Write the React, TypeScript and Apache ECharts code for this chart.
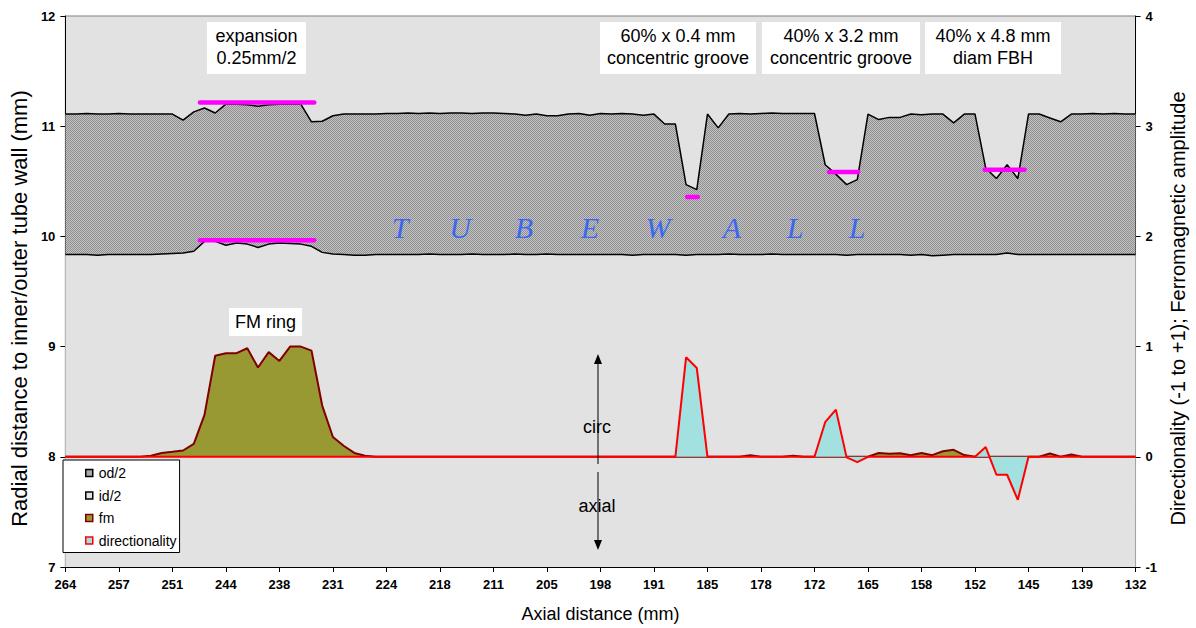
import React, { useEffect, useRef } from 'react';
import * as echarts from 'echarts';

// Axial sample positions (mm), 101 samples
const axialMm = [
  264.0, 262.68, 261.36, 260.04, 258.72, 257.4, 256.08, 254.76, 253.44, 252.12,
  250.8, 249.48, 248.16, 246.84, 245.52, 244.2, 242.88, 241.56, 240.24, 238.92,
  237.6, 236.28, 234.96, 233.64, 232.32, 231.0, 229.68, 228.36, 227.04, 225.72,
  224.4, 223.08, 221.76, 220.44, 219.12, 217.8, 216.48, 215.16, 213.84, 212.52,
  211.2, 209.88, 208.56, 207.24, 205.92, 204.6, 203.28, 201.96, 200.64, 199.32,
  198.0, 196.68, 195.36, 194.04, 192.72, 191.4, 190.08, 188.76, 187.44, 186.12,
  184.8, 183.48, 182.16, 180.84, 179.52, 178.2, 176.88, 175.56, 174.24, 172.92,
  171.6, 170.28, 168.96, 167.64, 166.32, 165.0, 163.68, 162.36, 161.04, 159.72,
  158.4, 157.08, 155.76, 154.44, 153.12, 151.8, 150.48, 149.16, 147.84, 146.52,
  145.2, 143.88, 142.56, 141.24, 139.92, 138.6, 137.28, 135.96, 134.64, 133.32,
  132.0,
];

const odHalf = [
  11.11, 11.11, 11.115, 11.11, 11.11, 11.115, 11.11, 11.11, 11.11, 11.11,
  11.11, 11.055, 11.13, 11.165, 11.12, 11.2, 11.2, 11.195, 11.18, 11.195,
  11.2, 11.2, 11.2, 11.04, 11.045, 11.095, 11.11, 11.11, 11.11, 11.11,
  11.115, 11.115, 11.12, 11.115, 11.12, 11.115, 11.12, 11.12, 11.115, 11.12,
  11.12, 11.115, 11.11, 11.1, 11.11, 11.095, 11.095, 11.11, 11.115, 11.1,
  11.115, 11.11, 11.115, 11.11, 11.1, 11.11, 11.02, 11.02, 10.47, 10.425,
  11.11, 10.985, 11.11, 11.115, 11.11, 11.115, 11.12, 11.115, 11.115, 11.115,
  11.115, 10.65, 10.565, 10.47, 10.515, 11.11, 11.06, 11.08, 11.08, 11.11,
  11.105, 11.11, 11.11, 11.03, 11.11, 11.11, 10.62, 10.525, 10.65, 10.525,
  11.11, 11.11, 11.075, 11.04, 11.11, 11.11, 11.115, 11.11, 11.115, 11.11,
  11.11,
];

const idHalf = [
  9.835, 9.835, 9.835, 9.83, 9.835, 9.835, 9.835, 9.835, 9.835, 9.84,
  9.845, 9.85, 9.865, 9.955, 9.955, 9.92, 9.94, 9.93, 9.9, 9.93,
  9.94, 9.935, 9.93, 9.91, 9.855, 9.84, 9.835, 9.83, 9.83, 9.835,
  9.835, 9.835, 9.835, 9.835, 9.84, 9.835, 9.835, 9.835, 9.84, 9.835,
  9.835, 9.835, 9.84, 9.835, 9.835, 9.84, 9.835, 9.835, 9.835, 9.835,
  9.835, 9.835, 9.835, 9.83, 9.835, 9.835, 9.835, 9.835, 9.83, 9.835,
  9.835, 9.835, 9.84, 9.835, 9.835, 9.835, 9.84, 9.835, 9.835, 9.835,
  9.835, 9.835, 9.835, 9.83, 9.835, 9.835, 9.835, 9.835, 9.835, 9.83,
  9.835, 9.825, 9.83, 9.835, 9.835, 9.835, 9.835, 9.835, 9.85, 9.835,
  9.835, 9.835, 9.835, 9.835, 9.835, 9.835, 9.835, 9.835, 9.835, 9.835,
  9.835,
];

const fmAmp = [
  0, 0, 0, 0, 0, 0, 0, 0, 0.01, 0.035,
  0.045, 0.057, 0.118, 0.38, 0.917, 0.94, 0.94, 0.985, 0.81, 0.95,
  0.87, 1.0, 1.0, 0.963, 0.465, 0.18, 0.1, 0.035, 0.01, 0,
  0, 0, 0, 0, 0, 0, 0, 0, 0, 0,
  0, 0, 0, 0, 0, 0, 0, 0, 0, 0,
  0, 0, 0, 0, 0, 0, 0, 0, 0, 0,
  0, 0, 0, 0, 0.015, 0, 0, 0, 0.01, 0,
  0, 0, 0, 0, 0, 0, 0.035, 0.027, 0.033, 0.015,
  0.035, 0.015, 0.05, 0.063, 0.016, 0, 0, 0, 0, 0,
  0, 0, 0.03, 0, 0.02, 0, 0, 0, 0, 0,
  0,
];

const directionality = [
  0, 0, 0, 0, 0, 0, 0, 0, 0, 0,
  0, 0, 0, 0, 0, 0, 0, 0, 0, 0,
  0, 0, 0, 0, 0, 0, 0, 0, 0, 0,
  0, 0, 0, 0, 0, 0, 0, 0, 0, 0,
  0, 0, 0, 0, 0, 0, 0, 0, 0, 0,
  0, 0, 0, 0, 0, 0, 0, 0, 0.903, 0.806,
  0, 0, 0, 0, 0, 0, 0, 0, 0, 0,
  0, 0.314, 0.428, -0.005, -0.048, 0, 0, 0, 0, 0,
  0, 0, 0, 0, 0, 0, 0.088, -0.163, -0.163, -0.39,
  0, 0, 0, 0, 0, 0, 0, 0, 0, 0,
  0,
];

// Magenta reference markers (nominal depths)
const markerStart = [247.4, 247.4, 187.3, 169.8, 150.6];
const markerEnd = [233.3, 233.3, 186.0, 166.2, 145.7];
const markerLevel = [11.215, 9.964, 10.358, 10.584, 10.605];

const xTickLabels = [
  '132', '139', '145', '152', '158', '165', '172', '178', '185', '191', '198',
  '205', '211', '218', '224', '231', '238', '244', '251', '257', '264',
];

const legendNames = ['od/2', 'id/2', 'fm', 'directionality'];
const wallLetters = ['T', 'U', 'B', 'E', 'W', 'A', 'L', 'L'];

const FONT = '"Liberation Sans", Arial, sans-serif';
const BG = '#e2e2e2';

function makeHatch(): any {
  const c = document.createElement('canvas');
  c.width = 4;
  c.height = 4;
  const ctx = c.getContext('2d')!;
  ctx.fillStyle = '#c4c4c4';
  ctx.fillRect(0, 0, 4, 4);
  ctx.fillStyle = '#8e8e8e';
  for (let y = 0; y < 4; y++) {
    for (let x = 0; x < 4; x++) {
      if ((x + y) % 2 === 0) ctx.fillRect(x, y, 1, 1);
    }
  }
  return { image: c, repeat: 'repeat' };
}

export default function App() {
  const ref = useRef<HTMLDivElement>(null);

  useEffect(() => {
    if (!ref.current) return;
    const chart = echarts.init(ref.current, null, { renderer: 'svg' });
    const hatch = makeHatch();

    const pairs = (vals: number[]) => axialMm.map((x, i) => [x, vals[i]]);

    const markerSeries = markerStart.map((x0, k) => ({
      name: 'marker' + k,
      type: 'line',
      yAxisIndex: 0,
      symbol: 'none',
      silent: true,
      data: [
        [x0, markerLevel[k]],
        [markerEnd[k], markerLevel[k]],
      ],
      lineStyle: { color: '#ff00ff', width: 4.5, cap: 'round' },
      z: 3,
    }));

    const annotations: any[] = [];
    const boxes = [
      { x: 207, w: 99, text: 'expansion\n0.25mm/2' },
      { x: 600, w: 156, text: '60% x 0.4 mm\nconcentric groove' },
      { x: 762, w: 158, text: '40% x 3.2 mm\nconcentric groove' },
      { x: 925, w: 136, text: '40% x 4.8 mm\ndiam FBH' },
    ];
    boxes.forEach((b) => {
      annotations.push({
        type: 'rect',
        shape: { x: b.x, y: 22, width: b.w, height: 52 },
        style: { fill: '#ffffff' },
        z: 10,
      });
      annotations.push({
        type: 'text',
        x: b.x + b.w / 2,
        y: 47,
        style: {
          text: b.text,
          fill: '#000',
          fontSize: 18,
          fontFamily: FONT,
          align: 'center',
          verticalAlign: 'middle',
          lineHeight: 22,
        },
        z: 11,
      });
    });
    annotations.push({
      type: 'rect',
      shape: { x: 229, y: 308, width: 73, height: 28 },
      style: { fill: '#ffffff' },
      z: 10,
    });
    annotations.push({
      type: 'text',
      x: 265.5,
      y: 322,
      style: { text: 'FM ring', fill: '#000', fontSize: 18, fontFamily: FONT, align: 'center', verticalAlign: 'middle' },
      z: 11,
    });
    const letterX = [400, 460, 524, 590, 658, 732, 795, 857];
    wallLetters.forEach((ch, i) => {
      annotations.push({
        type: 'text',
        x: letterX[i],
        y: 227,
        style: {
          text: ch,
          fill: '#3a68f2',
          fontSize: 30,
          fontStyle: 'italic',
          fontFamily: '"Liberation Serif", "Times New Roman", serif',
          align: 'center',
          verticalAlign: 'middle',
        },
        z: 11,
      });
    });
    // arrows
    annotations.push({ type: 'line', shape: { x1: 598, y1: 464, x2: 598, y2: 362 }, style: { stroke: '#000', lineWidth: 1 }, z: 11 });
    annotations.push({ type: 'polygon', shape: { points: [[598, 354], [594, 364], [602, 364]] }, style: { fill: '#000' }, z: 11 });
    annotations.push({ type: 'line', shape: { x1: 598, y1: 472, x2: 598, y2: 542 }, style: { stroke: '#000', lineWidth: 1 }, z: 11 });
    annotations.push({ type: 'polygon', shape: { points: [[598, 550], [594, 540], [602, 540]] }, style: { fill: '#000' }, z: 11 });
    annotations.push({
      type: 'text', x: 597, y: 427,
      style: { text: 'circ', fill: '#000', fontSize: 18, fontFamily: FONT, align: 'center', verticalAlign: 'middle' }, z: 11,
    });
    annotations.push({
      type: 'text', x: 597, y: 506,
      style: { text: 'axial', fill: '#000', fontSize: 18, fontFamily: FONT, align: 'center', verticalAlign: 'middle' }, z: 11,
    });

    const axisLabelStyle = { color: '#000', fontSize: 13, fontWeight: 'bold', fontFamily: FONT };
    const axisLineStyle = { show: true, lineStyle: { color: '#000', width: 1 } };

    chart.setOption({
      animation: false,
      backgroundColor: '#ffffff',
      textStyle: { fontFamily: FONT },
      grid: {
        left: 63,
        right: 56,
        top: 16,
        bottom: 60,
        show: true,
        backgroundColor: BG,
        borderColor: '#808080',
        borderWidth: 1,
      },
      legend: {
        data: [
          { name: legendNames[0], itemStyle: { color: hatch, borderColor: '#000', borderWidth: 1.5 } },
          { name: legendNames[1], itemStyle: { color: BG, borderColor: '#000', borderWidth: 1.5 } },
          { name: legendNames[2], itemStyle: { color: '#999933', borderColor: '#800000', borderWidth: 1.5 } },
          { name: legendNames[3], itemStyle: { color: '#a3e0e0', borderColor: '#ff0000', borderWidth: 1.5 } },
        ],
        icon: 'rect',
        orient: 'vertical',
        left: 63,
        top: 460,
        backgroundColor: '#ffffff',
        borderColor: '#000',
        borderWidth: 1,
        borderRadius: 0,
        padding: [6, 3, 5, 22],
        itemWidth: 7,
        itemHeight: 7,
        itemGap: 8.5,
        selectedMode: false,
        textStyle: { color: '#000', fontSize: 14, fontFamily: FONT, lineHeight: 14, padding: [0, 0, 0, 1] },
        z: 20,
      },
      xAxis: {
        type: 'value',
        inverse: true,
        min: 132,
        max: 264,
        interval: 6.6,
        name: 'Axial distance (mm)',
        nameLocation: 'middle',
        nameGap: 38,
        nameTextStyle: { color: '#000', fontSize: 18, fontFamily: FONT },
        axisLine: { ...axisLineStyle, onZero: false },
        axisTick: { show: true, length: 5, lineStyle: { color: '#000' } },
        axisLabel: {
          ...axisLabelStyle,
          margin: 11,
          formatter: (v: number) => xTickLabels[Math.round((v - 132) / 6.6)] ?? '',
        },
        splitLine: { show: false },
      },
      yAxis: [
        {
          type: 'value',
          position: 'left',
          min: 7,
          max: 12,
          interval: 1,
          name: 'Radial distance to inner/outer tube wall (mm)',
          nameLocation: 'middle',
          nameRotate: 90,
          nameGap: 32,
          nameTextStyle: { color: '#000', fontSize: 22, fontFamily: FONT, padding: [0, 34, 0, 0] },
          axisLine: { ...axisLineStyle, onZero: false },
          axisTick: { show: true, length: 5, lineStyle: { color: '#000' } },
          axisLabel: { ...axisLabelStyle, margin: 10 },
          splitLine: { show: false },
        },
        {
          type: 'value',
          position: 'right',
          min: -1,
          max: 4,
          interval: 1,
          name: 'Directionality (-1 to +1); Ferromagnetic amplitude',
          nameLocation: 'middle',
          nameRotate: 90,
          nameGap: 32,
          nameTextStyle: { color: '#000', fontSize: 20, fontFamily: FONT, padding: [0, 34, 0, 0] },
          axisLine: { ...axisLineStyle, onZero: false },
          axisTick: { show: true, length: 5, lineStyle: { color: '#000' } },
          axisLabel: { ...axisLabelStyle, margin: 10 },
          splitLine: { show: false },
        },
      ],
      series: [
        {
          name: legendNames[0],
          type: 'line',
          yAxisIndex: 0,
          symbol: 'none',
          data: pairs(odHalf),
          lineStyle: { color: '#000', width: 1.5 },
          itemStyle: { color: '#999' },
          areaStyle: { color: hatch, opacity: 1, origin: 'start' },
          z: 2,
        },
        {
          name: legendNames[1],
          type: 'line',
          yAxisIndex: 0,
          symbol: 'none',
          data: pairs(idHalf),
          lineStyle: { color: '#000', width: 1.5 },
          itemStyle: { color: BG },
          areaStyle: { color: BG, opacity: 1, origin: 'start' },
          z: 2,
        },
        ...markerSeries,
        {
          name: legendNames[2],
          type: 'line',
          yAxisIndex: 1,
          symbol: 'none',
          data: pairs(fmAmp),
          lineStyle: { color: '#800000', width: 2 },
          itemStyle: { color: '#999933' },
          areaStyle: { color: '#999933', opacity: 1 },
          z: 4,
        },
        {
          name: legendNames[3],
          type: 'line',
          yAxisIndex: 1,
          symbol: 'none',
          data: pairs(directionality),
          lineStyle: { color: '#ff0000', width: 2 },
          itemStyle: { color: '#a3e0e0' },
          areaStyle: { color: '#a3e0e0', opacity: 1 },
          z: 5,
        },
      ],
      graphic: annotations,
    });

    return () => chart.dispose();
  }, []);

  return (
    <div
      ref={ref}
      style={{ position: 'fixed', left: 0, top: 0, width: 1196, height: 628, background: '#fff' }}
    />
  );
}
